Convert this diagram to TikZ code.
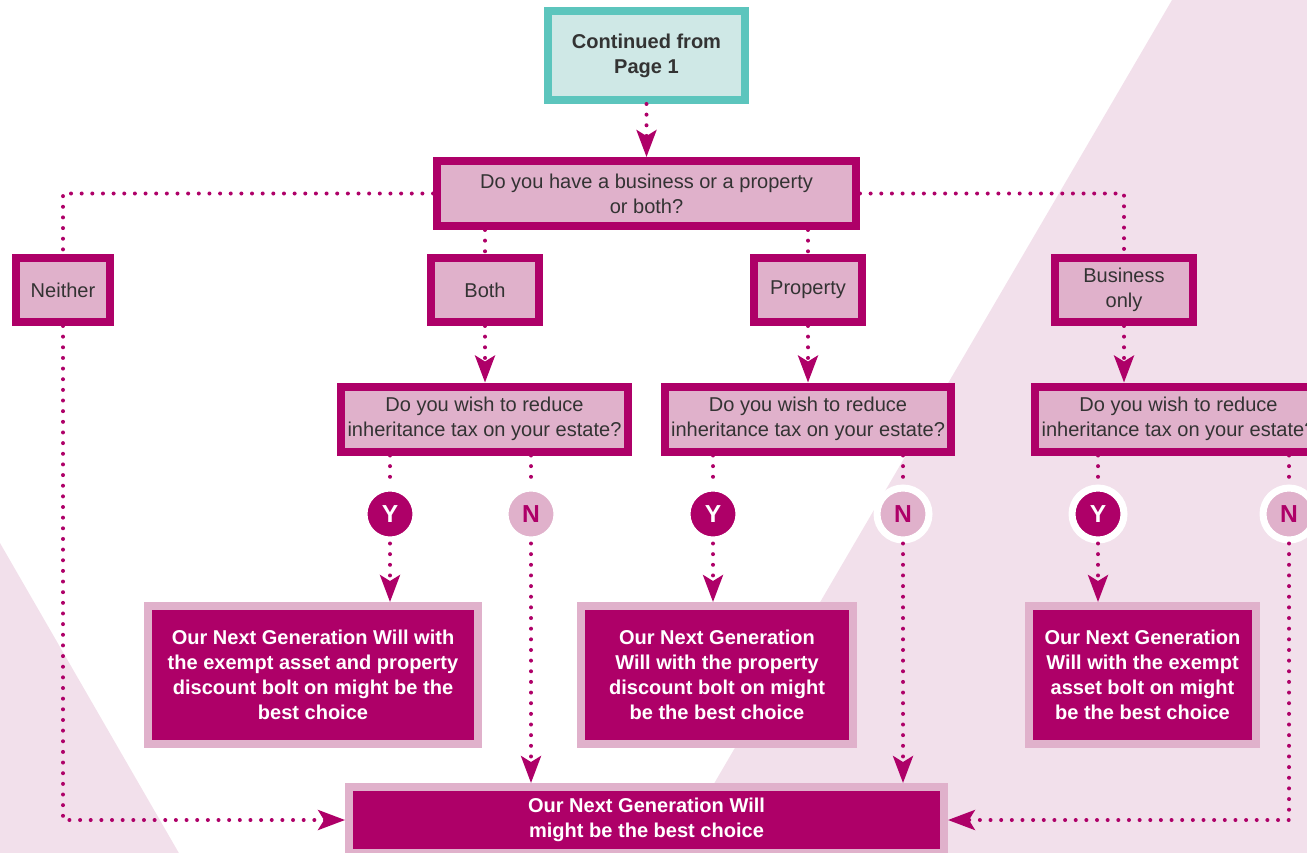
\documentclass[tikz,border=0pt]{standalone}
\usepackage{fontspec}
\setmainfont{Liberation Sans}
\usetikzlibrary{arrows.meta}
\definecolor{plum}{HTML}{AE0068}
\definecolor{rosefill}{HTML}{E0B1CB}
\definecolor{blush}{HTML}{F2E0EB}
\definecolor{tealline}{HTML}{5CC5BD}
\definecolor{tealfill}{HTML}{CFE8E6}
\definecolor{inkgrey}{HTML}{333333}

\begin{document}
\begin{tikzpicture}[x=0.02cm, y=-0.02cm,
      every node/.style={font=\fontsize{11.4}{14.2}\selectfont, align=center, inner sep=0pt},
      startbox/.style={draw=tealline, fill=tealfill, line width=0.15cm,
                  minimum width=3.95cm, minimum height=1.79cm, text=inkgrey,
                  font=\fontsize{11.4}{14.2}\selectfont\bfseries},
      askbox/.style={draw=plum, fill=rosefill, line width=0.16cm,
                  minimum height=1.3cm, text=inkgrey},
      optbox/.style={askbox, minimum height=1.28cm},
      willbox/.style={draw=rosefill, fill=plum, line width=0.16cm, text=white,
                  minimum height=2.76cm, font=\fontsize{11.4}{14.2}\selectfont\bfseries},
      yesdot/.style={circle, draw=white, line width=0.14cm, minimum size=1.04cm,
                  fill=plum, text=white, font=\fontsize{14}{14}\selectfont\bfseries},
      nodot/.style={yesdot, fill=rosefill, text=plum},
      flow/.style={plum, line width=0.08cm, line cap=round, dash pattern=on 0pt off 0.213cm},
      flowarrow/.style={flow, -{Stealth[length=0.54cm, width=0.4cm, inset=0.12cm]}}]
      \clip (0,0) rectangle (1307,852);
      % background
      \fill[blush] (1172,0) -- (1400,0) -- (1400,900) -- (646,900) -- cycle;
      \fill[blush] (0,543) -- (206,900) -- (0,900) -- cycle;

      \node[startbox] (start) at (646.5,55.5) {Continued from\\Page 1};
      \node[askbox, minimum width=8.38cm] (ask) at (646.5,193.5) {Do you have a business or a property\\or both?};

      \node[optbox, minimum width=1.88cm] (neither) at (63,290) {Neither};
      \node[optbox, minimum width=2.16cm] (both) at (485,290) {Both};
      \node[optbox, minimum width=2.16cm] (property) at (808,290) {Property};
      \node[optbox, minimum width=2.76cm] (business) at (1124,290) {Business\\only};

      \node[askbox, minimum width=5.74cm] (taxa) at (484.5,419) {Do you wish to reduce\\inheritance tax on your estate?};
      \node[askbox, minimum width=5.74cm] (taxb) at (808,419) {Do you wish to reduce\\inheritance tax on your estate?};
      \node[askbox, minimum width=5.74cm] (taxc) at (1178.5,419) {Do you wish to reduce\\inheritance tax on your estate?};

      \node[yesdot] (ya) at (390,514) {Y};
      \node[nodot] (na) at (531,514) {N};
      \node[yesdot] (yb) at (713,514) {Y};
      \node[nodot] (nb) at (903,514) {N};
      \node[yesdot] (yc) at (1098,514) {Y};
      \node[nodot] (nc) at (1289,514) {N};

      \node[willbox, minimum width=6.6cm] (willa) at (313,675) {Our Next Generation Will with\\the exempt asset and property\\discount bolt on might be the\\best choice};
      \node[willbox, minimum width=5.44cm] (willb) at (717,675) {Our Next Generation\\Will with the property\\discount bolt on might\\be the best choice};
      \node[willbox, minimum width=4.54cm] (willc) at (1142.5,675) {Our Next Generation\\Will with the exempt\\asset bolt on might\\be the best choice};
      \node[willbox, minimum width=11.9cm, minimum height=1.32cm] (final) at (646.5,820) {Our Next Generation Will\\might be the best choice};

      % connectors
      \draw[flowarrow] (start) -- (ask);
      \draw[flow] (ask.west) -| (neither.north);
      \draw[flow] (ask.east) -| (business.north);
      \draw[flow] (both.north |- ask.south) -- (both.north);
      \draw[flow] (property.north |- ask.south) -- (property.north);
      \draw[flowarrow] (both) -- (both |- taxa.north);
      \draw[flowarrow] (property) -- (property |- taxb.north);
      \draw[flowarrow] (business) -- (business |- taxc.north);

      \draw[flow] (ya |- taxa.south) -- (ya);
      \draw[flow] (na |- taxa.south) -- (na);
      \draw[flow] (yb |- taxb.south) -- (yb);
      \draw[flow] (nb |- taxb.south) -- (nb);
      \draw[flow] (yc |- taxc.south) -- (yc);
      \draw[flow] (nc |- taxc.south) -- (nc);

      \draw[flowarrow] (ya) -- (ya |- willa.north);
      \draw[flowarrow] (yb) -- (yb |- willb.north);
      \draw[flowarrow] (yc) -- (yc |- willc.north);
      \draw[flowarrow] (na) -- (na |- final.north);
      \draw[flowarrow] (nb) -- (nb |- final.north);
      \draw[flowarrow] (neither) |- (final.west);
      \draw[flowarrow] (nc) |- (final.east);
\end{tikzpicture}
\end{document}
